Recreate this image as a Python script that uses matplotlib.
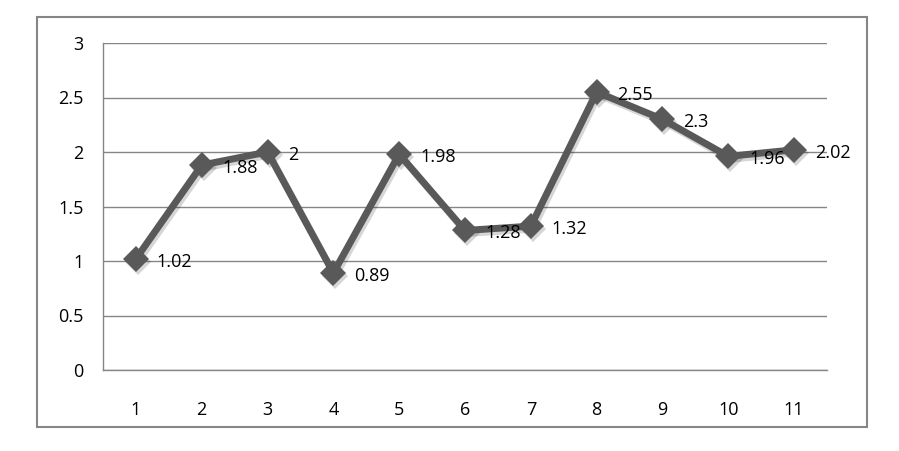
import matplotlib.pyplot as plt
import matplotlib.transforms as mtransforms
from matplotlib.patches import Rectangle

# data
categories = ['1', '2', '3', '4', '5', '6', '7', '8', '9', '10', '11']
values = [1.02, 1.88, 2, 0.89, 1.98, 1.28, 1.32, 2.55, 2.3, 1.96, 2.02]
labels = ['1.02', '1.88', '2', '0.89', '1.98', '1.28', '1.32', '2.55', '2.3', '1.96', '2.02']
yticks = [0, 0.5, 1, 1.5, 2, 2.5, 3]
ytick_labels = ['0', '0.5', '1', '1.5', '2', '2.5', '3']

plt.rcParams['font.family'] = ['Open Sans', 'DejaVu Sans']

fig = plt.figure(figsize=(8.99, 4.51), dpi=100)
fig.patch.set_facecolor('white')

# outer chart border
fig.patches.append(Rectangle((37 / 899, 24 / 451), 830 / 899, 410 / 451,
                             transform=fig.transFigure, fill=False,
                             edgecolor='#868686', linewidth=1.5))

ax = fig.add_axes([103 / 899, 81 / 451, 724 / 899, 327 / 451])
x = list(range(1, len(categories) + 1))

# soft drop shadow under the series
shadow_tr = ax.transData + mtransforms.ScaledTranslation(2 / 100, -3 / 100, fig.dpi_scale_trans)
ax.plot(x, values, color='#000000', alpha=0.16, linewidth=5, marker='D', markersize=13,
        markeredgewidth=0, solid_joinstyle='round', transform=shadow_tr, zorder=2)

ax.plot(x, values, color='#595959', linewidth=5, marker='D', markersize=13,
        markerfacecolor='#595959', markeredgecolor='#595959', markeredgewidth=0,
        solid_joinstyle='round', zorder=3)

for xi, v, lab in zip(x, values, labels):
    ax.annotate(lab, (xi, v), xytext=(15, -2), textcoords='offset points',
                ha='left', va='center', fontsize=13, color='black', zorder=4)

ax.set_xlim(0.5, len(categories) + 0.5)
ax.set_ylim(0, 3)
ax.set_xticks(x)
ax.set_xticklabels(categories)
ax.set_yticks(yticks)
ax.set_yticklabels(ytick_labels)
ax.tick_params(axis='both', length=0, labelsize=13, colors='black')
ax.tick_params(axis='y', pad=14)
ax.tick_params(axis='x', pad=22)

ax.grid(axis='y', color='#868686', linewidth=1)
ax.set_axisbelow(True)
for s in ['top', 'right']:
    ax.spines[s].set_visible(False)
for s in ['left', 'bottom']:
    ax.spines[s].set_color('#868686')
    ax.spines[s].set_linewidth(1)

fig.savefig('out.png', dpi=100)
